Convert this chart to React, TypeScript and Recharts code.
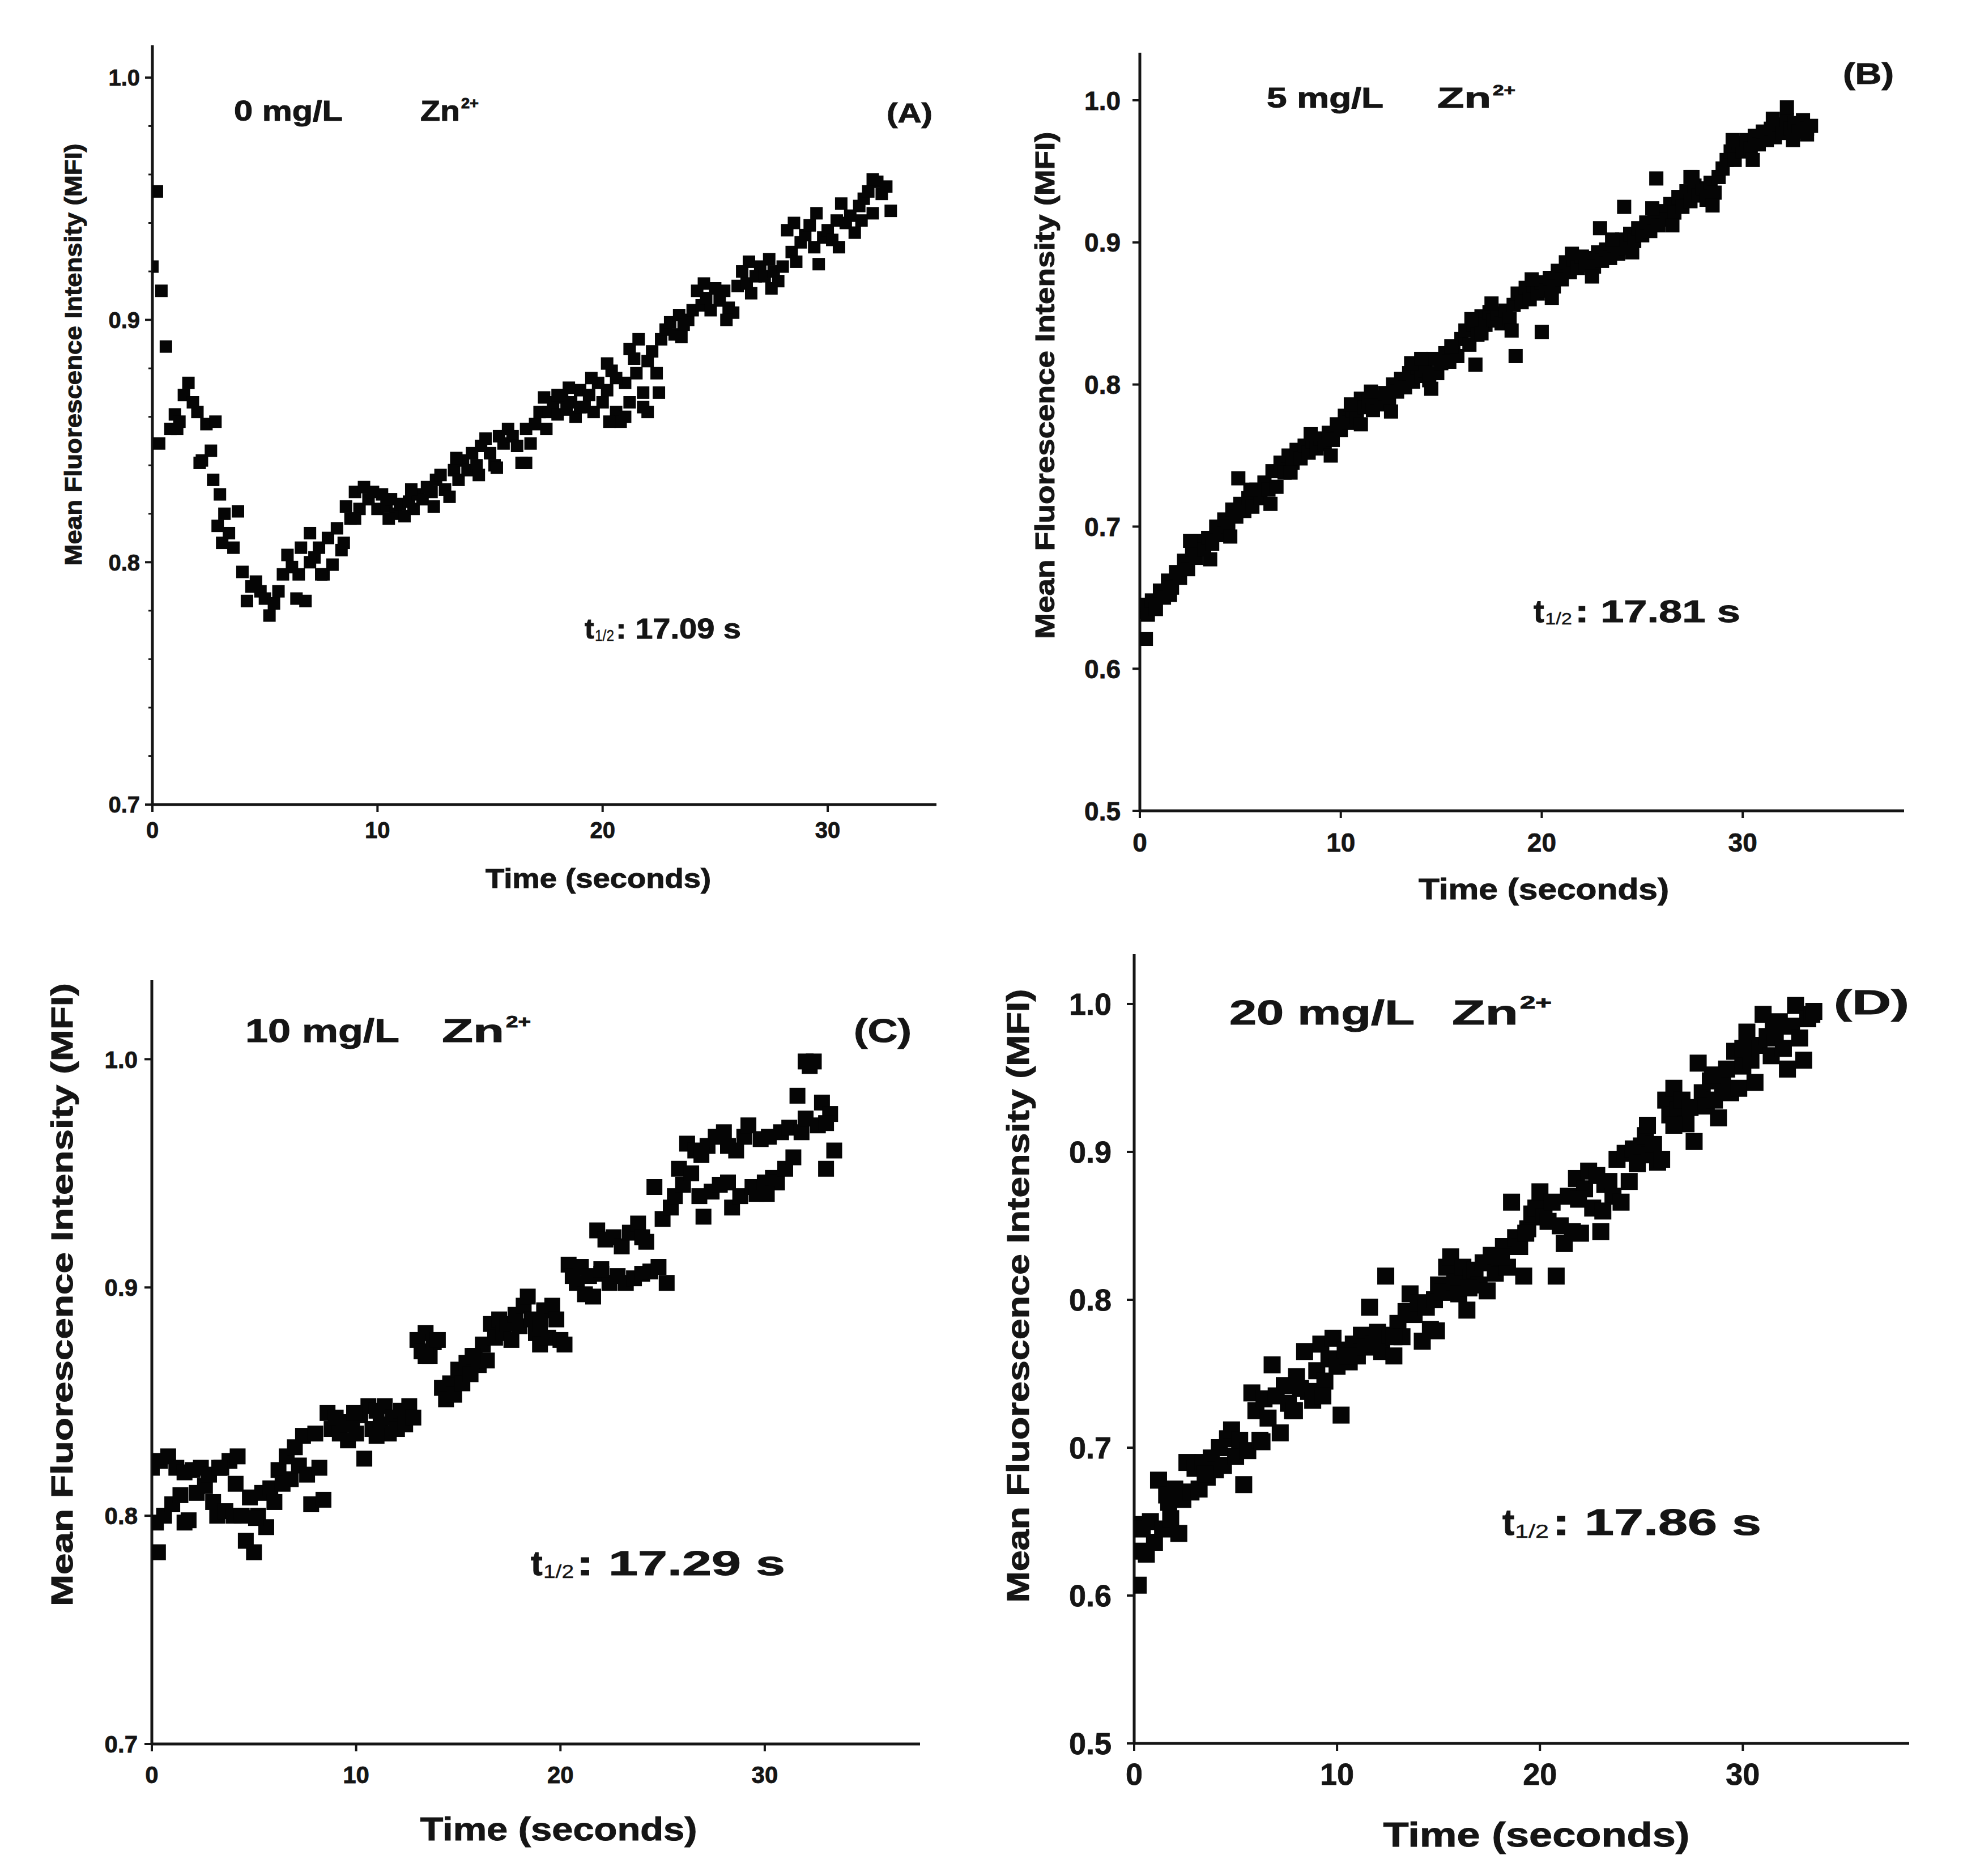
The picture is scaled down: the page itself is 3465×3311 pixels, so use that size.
import React from 'react';
import { ScatterChart, Scatter, XAxis, YAxis } from 'recharts';

// ---------- data ----------
const TIME = [
  0, 0.2, 0.4, 0.6, 0.8, 1, 1.2, 1.4, 1.6, 1.8,
  2, 2.2, 2.4, 2.6, 2.8, 3, 3.2, 3.4, 3.6, 3.8,
  4, 4.2, 4.4, 4.6, 4.8, 5, 5.2, 5.4, 5.6, 5.8,
  6, 6.2, 6.4, 6.6, 6.8, 7, 7.2, 7.4, 7.6, 7.8,
  8, 8.2, 8.4, 8.6, 8.8, 9, 9.2, 9.4, 9.6, 9.8,
  10, 10.2, 10.4, 10.6, 10.8, 11, 11.2, 11.4, 11.6, 11.8,
  12, 12.2, 12.4, 12.6, 12.8, 13, 13.2, 13.4, 13.6, 13.8,
  14, 14.2, 14.4, 14.6, 14.8, 15, 15.2, 15.4, 15.6, 15.8,
  16, 16.2, 16.4, 16.6, 16.8, 17, 17.2, 17.4, 17.6, 17.8,
  18, 18.2, 18.4, 18.6, 18.8, 19, 19.2, 19.4, 19.6, 19.8,
  20, 20.2, 20.4, 20.6, 20.8, 21, 21.2, 21.4, 21.6, 21.8,
  22, 22.2, 22.4, 22.6, 22.8, 23, 23.2, 23.4, 23.6, 23.8,
  24, 24.2, 24.4, 24.6, 24.8, 25, 25.2, 25.4, 25.6, 25.8,
  26, 26.2, 26.4, 26.6, 26.8, 27, 27.2, 27.4, 27.6, 27.8,
  28, 28.2, 28.4, 28.6, 28.8, 29, 29.2, 29.4, 29.6, 29.8,
  30, 30.2, 30.4, 30.6, 30.8, 31, 31.2, 31.4, 31.6, 31.8,
  32, 32.2, 32.4, 32.6, 32.8, 33, 33.2, 33.4,
];

const MFI_A = [
  0.922, 0.953, 0.912, 0.889, 0.855, 0.861, 0.858, 0.869, 0.874, 0.866,
  0.862, 0.842, 0.857, 0.846, 0.858, 0.828, 0.820, 0.812, 0.806, 0.821,
  0.796, 0.784, 0.790, 0.792, 0.788, 0.785, 0.778, 0.783, 0.788, 0.795,
  0.803, 0.798, 0.785, 0.806, 0.784, 0.812, 0.802, 0.806, 0.795, 0.810,
  0.799, 0.814, 0.805, 0.823, 0.818, 0.829, 0.822, 0.831, 0.826, 0.829,
  0.822, 0.828, 0.823, 0.826, 0.820, 0.824, 0.819, 0.825, 0.822, 0.828,
  0.826, 0.831, 0.829, 0.834, 0.836, 0.830, 0.827, 0.838, 0.834, 0.842,
  0.838, 0.845, 0.840, 0.848, 0.851, 0.845, 0.840, 0.852, 0.849, 0.855,
  0.852, 0.848, 0.841, 0.855, 0.849, 0.857, 0.862, 0.868, 0.862, 0.866,
  0.861, 0.868, 0.863, 0.866, 0.860, 0.871, 0.864, 0.869, 0.862, 0.874,
  0.866, 0.871, 0.879, 0.862, 0.858, 0.874, 0.866, 0.884, 0.892, 0.870,
  0.862, 0.887, 0.878, 0.892, 0.896, 0.899, 0.894, 0.902, 0.898, 0.900,
  0.904, 0.912, 0.906, 0.909, 0.904, 0.913, 0.908, 0.912, 0.905, 0.903,
  0.914, 0.920, 0.915, 0.911, 0.918, 0.922, 0.918, 0.925, 0.920, 0.916,
  0.922, 0.937, 0.928, 0.924, 0.932, 0.935, 0.939, 0.930, 0.923, 0.934,
  0.937, 0.933, 0.941, 0.948, 0.940, 0.943, 0.936, 0.947, 0.950, 0.953,
  0.944, 0.957, 0.952, 0.955, 0.945,
];
const EXTRA_TIME_A = [
  0.3, 1.1, 2.1, 2.7, 2.9, 3.1, 18.0, 19.0, 20.3, 20.6, 21.0, 21.5, 21.8, 22.0, 16.6, 15.3,
  6.5, 7.0, 7.5, 8.5, 9.0, 10.5, 11.5, 12.5, 13.5, 14.5, 17.5, 18.5, 19.5, 20.2, 21.2, 22.5,
  23.5, 24.5, 25.5, 26.5, 27.5, 28.5, 29.5, 30.5, 31.5, 32.0,
];
const EXTRA_MFI_A = [
  0.849, 0.855, 0.841, 0.834, 0.815, 0.808, 0.869, 0.864, 0.858, 0.876, 0.860, 0.878, 0.864, 0.883, 0.841, 0.839,
  0.795, 0.800, 0.795, 0.808, 0.818, 0.818, 0.830, 0.823, 0.843, 0.836, 0.855, 0.872, 0.876, 0.882, 0.888, 0.870,
  0.893, 0.915, 0.900, 0.924, 0.913, 0.940, 0.944, 0.930, 0.941, 0.958,
];

const MFI_B = [
  0.640, 0.645, 0.638, 0.648, 0.642, 0.655, 0.650, 0.662, 0.657, 0.668,
  0.664, 0.676, 0.670, 0.684, 0.678, 0.690, 0.684, 0.692, 0.688, 0.700,
  0.694, 0.705, 0.700, 0.712, 0.707, 0.716, 0.711, 0.720, 0.714, 0.726,
  0.720, 0.731, 0.726, 0.739, 0.728, 0.745, 0.738, 0.750, 0.745, 0.754,
  0.748, 0.757, 0.752, 0.760, 0.755, 0.762, 0.758, 0.766, 0.761, 0.772,
  0.768, 0.778, 0.773, 0.782, 0.777, 0.790, 0.784, 0.788, 0.782, 0.791,
  0.786, 0.794, 0.789, 0.800, 0.795, 0.804, 0.798, 0.808, 0.802, 0.812,
  0.806, 0.810, 0.803, 0.818, 0.808, 0.815, 0.822, 0.816, 0.826, 0.820,
  0.832, 0.838, 0.828, 0.842, 0.835, 0.848, 0.842, 0.851, 0.845, 0.850,
  0.843, 0.852, 0.846, 0.856, 0.864, 0.858, 0.868, 0.860, 0.870, 0.864,
  0.872, 0.866, 0.875, 0.869, 0.880, 0.874, 0.886, 0.879, 0.888, 0.882,
  0.890, 0.884, 0.889, 0.883, 0.893, 0.887, 0.895, 0.889, 0.898, 0.892,
  0.902, 0.896, 0.906, 0.901, 0.910, 0.905, 0.914, 0.908, 0.918, 0.912,
  0.922, 0.916, 0.927, 0.921, 0.932, 0.925, 0.936, 0.929, 0.940, 0.933,
  0.938, 0.930, 0.942, 0.935, 0.946, 0.952, 0.958, 0.964, 0.958, 0.970,
  0.964, 0.972, 0.966, 0.975, 0.969, 0.978, 0.972, 0.980, 0.974, 0.983,
  0.977, 0.986, 0.980, 0.984, 0.978, 0.986, 0.980, 0.982,
];
const EXTRA_TIME_B = [
  0.3, 4.9, 16.7, 18.7, 20.0, 22.9, 24.1, 25.7, 32.2, 27.4,
  1.5, 2.5, 3.5, 4.5, 5.5, 6.5, 7.5, 8.5, 9.5, 10.5, 11.5, 12.5, 13.5, 14.5, 15.5, 16.5,
  17.5, 18.5, 19.5, 20.5, 21.5, 22.5, 23.5, 24.5, 25.5, 26.5, 27.5, 28.5, 29.5, 30.5, 31.5,
  32.5, 33.2, 11.0, 14.0, 17.0,
];
const EXTRA_MFI_B = [
  0.621, 0.734, 0.814, 0.820, 0.837, 0.910, 0.925, 0.945, 0.995, 0.946,
  0.652, 0.690, 0.677, 0.693, 0.726, 0.716, 0.738, 0.765, 0.750, 0.786, 0.795, 0.781, 0.815, 0.797, 0.827, 0.846,
  0.857, 0.838, 0.874, 0.861, 0.892, 0.876, 0.902, 0.893, 0.924, 0.912, 0.946, 0.926, 0.972, 0.958, 0.987,
  0.972, 0.976, 0.772, 0.818, 0.836,
];

const MFI_C = [
  0.821, 0.797, 0.824, 0.800, 0.826, 0.805, 0.821, 0.809, 0.819, 0.798,
  0.820, 0.810, 0.821, 0.813, 0.818, 0.806, 0.800, 0.821, 0.802, 0.824,
  0.800, 0.826, 0.800, 0.789, 0.808, 0.784, 0.800, 0.810, 0.795, 0.812,
  0.806, 0.820, 0.814, 0.826, 0.816, 0.830, 0.822, 0.835, 0.818, 0.805,
  0.836, 0.821, 0.807, 0.845, 0.838, 0.843, 0.836, 0.841, 0.833, 0.840,
  0.836, 0.844, 0.825, 0.848, 0.838, 0.846, 0.840, 0.848, 0.836, 0.843,
  0.838, 0.846, 0.840, 0.848, 0.843, 0.877, 0.872, 0.880, 0.870, 0.876,
  0.877, 0.856, 0.851, 0.858, 0.853, 0.864, 0.858, 0.867, 0.862, 0.870,
  0.866, 0.875, 0.868, 0.884, 0.878, 0.886, 0.880, 0.884, 0.877, 0.888,
  0.883, 0.892, 0.896, 0.886, 0.880, 0.875, 0.890, 0.878, 0.892, 0.886,
  0.877, 0.875, 0.910, 0.905, 0.902, 0.909, 0.897, 0.905, 0.896, 0.925,
  0.906, 0.921, 0.902, 0.922, 0.905, 0.918, 0.902, 0.924, 0.904, 0.928,
  0.906, 0.920, 0.907, 0.944, 0.909, 0.930, 0.902, 0.935, 0.940, 0.952,
  0.945, 0.963, 0.950, 0.960, 0.940, 0.931, 0.962, 0.942, 0.966, 0.945,
  0.968, 0.946, 0.935, 0.960, 0.940, 0.966, 0.971, 0.944, 0.941, 0.965,
  0.946, 0.966, 0.948, 0.946, 0.968, 0.952, 0.970, 0.957, 0.984, 0.968,
  0.974, 0.997, 0.999, 0.971, 0.981, 0.952, 0.976, 0.960,
];
const EXTRA_TIME_C = [0.3, 1.6, 3.3, 5.1, 13.4, 15.7, 19.0, 22.0, 24.0, 26.9, 28.2, 30.1, 32.0, 33.0, 4.1, 9.9, 11.0];
const EXTRA_MFI_C = [0.784, 0.797, 0.821, 0.799, 0.870, 0.870, 0.884, 0.908, 0.922, 0.958, 0.962, 0.941, 0.999, 0.972, 0.814, 0.845, 0.835];

const MFI_D = [
  0.648, 0.630, 0.645, 0.628, 0.650, 0.636, 0.678, 0.645, 0.668, 0.652,
  0.672, 0.642, 0.665, 0.690, 0.670, 0.686, 0.672, 0.690, 0.680, 0.693,
  0.685, 0.700, 0.688, 0.706, 0.712, 0.694, 0.705, 0.675, 0.698, 0.737,
  0.725, 0.705, 0.733, 0.720, 0.756, 0.735, 0.710, 0.742, 0.730, 0.725,
  0.748, 0.740, 0.765, 0.738, 0.732, 0.752, 0.770, 0.745, 0.760, 0.774,
  0.755, 0.722, 0.766, 0.758, 0.770, 0.762, 0.776, 0.768, 0.795, 0.770,
  0.778, 0.765, 0.816, 0.776, 0.762, 0.784, 0.775, 0.792, 0.804, 0.790,
  0.798, 0.772, 0.795, 0.780, 0.800, 0.810, 0.805, 0.822, 0.829, 0.812,
  0.804, 0.822, 0.793, 0.815, 0.820, 0.810, 0.825, 0.806, 0.830, 0.818,
  0.828, 0.836, 0.822, 0.866, 0.842, 0.836, 0.816, 0.848, 0.858, 0.862,
  0.873, 0.856, 0.853, 0.866, 0.816, 0.850, 0.838, 0.870, 0.846, 0.882,
  0.845, 0.875, 0.887, 0.862, 0.884, 0.846, 0.878, 0.880, 0.870, 0.895,
  0.866, 0.899, 0.880, 0.902, 0.892, 0.904, 0.911, 0.898, 0.905, 0.893,
  0.895, 0.935, 0.925, 0.943, 0.928, 0.935, 0.919, 0.930, 0.907, 0.960,
  0.940, 0.931, 0.948, 0.935, 0.923, 0.945, 0.956, 0.940, 0.968, 0.943,
  0.958, 0.981, 0.962, 0.947, 0.972, 0.993, 0.978, 0.965, 0.977, 0.988,
  0.970, 0.956, 0.985, 0.999, 0.977, 0.962, 0.990, 0.993,
];
const EXTRA_TIME_D = [0.2, 1.7, 3.5, 6.3, 7.9, 9.3, 10.5, 12.8, 14.9, 16.5, 18.1, 19.3, 21.9, 23.1, 25.3, 26.6, 28.5, 30.0, 31.5, 33.5];
const EXTRA_MFI_D = [0.607, 0.663, 0.682, 0.704, 0.725, 0.735, 0.762, 0.775, 0.779, 0.808, 0.829, 0.845, 0.868, 0.860, 0.918, 0.918, 0.952, 0.970, 0.985, 0.995];

const X_TICKS = [0, 10, 20, 30];
const Y_TICKS_HIGH = [0.7, 0.8, 0.9, 1.0];
const Y_TICKS_LOW = [0.5, 0.6, 0.7, 0.8, 0.9, 1.0];
const Y_MINOR_A = [0.72, 0.74, 0.76, 0.78, 0.82, 0.84, 0.86, 0.88, 0.92, 0.94, 0.96, 0.98];

const PANEL_TAGS = ['(A)', '(B)', '(C)', '(D)'];
const CONCENTRATIONS = ['0 mg/L', '5 mg/L', '10 mg/L', '20 mg/L'];
const HALF_TIMES = [': 17.09 s', ': 17.81 s', ': 17.29 s', ': 17.86 s'];
const X_TITLE = 'Time (seconds)';
const Y_TITLE = 'Mean Fluorescence Intensity (MFI)';

// ---------- helpers ----------
const FONT = '"Liberation Sans", Arial, Helvetica, sans-serif';
const INK = '#151515';

function buildData(values: number[], extraT: number[], extraV: number[]) {
  const main = values.map((v, i) => ({ t: TIME[i], v }));
  const extra = extraT.map((t, i) => ({ t, v: extraV[i] }));
  return main.concat(extra);
}

type PanelCfg = {
  left: number; top: number; width: number; height: number;
  yw: number; mt: number; xh: number;
  xMax: number; yMin: number; yMax: number;
  yTicks: number[]; minor: number[];
  data: { t: number; v: number }[];
  marker: number; tickFont: number; yGap: number; xTickMargin: number;
};

const PANELS: PanelCfg[] = [
  {
    left: 40, top: 60, width: 1613, height: 1520, yw: 229, mt: 20, xh: 160,
    xMax: 34.83, yMin: 0.7, yMax: 1.0133, yTicks: Y_TICKS_HIGH, minor: Y_MINOR_A,
    data: buildData(MFI_A, EXTRA_TIME_A, EXTRA_MFI_A), marker: 22, tickFont: 40, yGap: 22, xTickMargin: 18,
  },
  {
    left: 1783, top: 73, width: 1578, height: 1518, yw: 229, mt: 20, xh: 160,
    xMax: 38.03, yMin: 0.5, yMax: 1.0335, yTicks: Y_TICKS_LOW, minor: [],
    data: buildData(MFI_B, EXTRA_TIME_B, EXTRA_MFI_B), marker: 25, tickFont: 46, yGap: 34, xTickMargin: 26,
  },
  {
    left: 39, top: 1710, width: 1585, height: 1528, yw: 229, mt: 20, xh: 160,
    xMax: 37.6, yMin: 0.7, yMax: 1.0346, yTicks: Y_TICKS_HIGH, minor: [],
    data: buildData(MFI_C, EXTRA_TIME_C, EXTRA_MFI_C), marker: 28, tickFont: 42, yGap: 25, xTickMargin: 26,
  },
  {
    left: 1773, top: 1664, width: 1597, height: 1573, yw: 229, mt: 20, xh: 160,
    xMax: 38.2, yMin: 0.5, yMax: 1.0337, yTicks: Y_TICKS_LOW, minor: [],
    data: buildData(MFI_D, EXTRA_TIME_D, EXTRA_MFI_D), marker: 30, tickFont: 54, yGap: 40, xTickMargin: 22,
  },
];

function Panel({ cfg }: { cfg: PanelCfg }) {
  const allTicks = [...cfg.yTicks, ...cfg.minor].sort((a, b) => a - b);
  const majors = new Set(cfg.yTicks.map((v) => v.toFixed(2)));
  const renderYTick = (p: any) => {
    const val = Number(p.payload.value);
    const major = majors.has(val.toFixed(2));
    const y = p.y;
    return (
      <g>
        <line x1={cfg.yw - (major ? 13 : 7)} x2={cfg.yw} y1={y} y2={y} stroke={INK} strokeWidth={major ? 4 : 3} />
        {major && (
          <text x={cfg.yw - cfg.yGap} y={y} dy="0.36em" textAnchor="end" fontSize={cfg.tickFont}
            fontWeight="bold" fontFamily={FONT} fill={INK} stroke={INK} strokeWidth={0.8}>
            {val.toFixed(1)}
          </text>
        )}
      </g>
    );
  };
  const s = cfg.marker;
  const renderSquare = (p: any) => (
    <rect x={p.cx - s / 2} y={p.cy - s / 2} width={s} height={s} fill="#050505" />
  );
  return (
    <div style={{ position: 'absolute', left: cfg.left, top: cfg.top }}>
      <ScatterChart width={cfg.width} height={cfg.height} margin={{ top: cfg.mt, right: 0, bottom: 0, left: 0 }}>
        <XAxis
          type="number" dataKey="t" domain={[0, cfg.xMax]} ticks={X_TICKS} allowDataOverflow interval={0}
          height={cfg.xh} axisLine={{ stroke: INK, strokeWidth: 5 }} tickLine={{ stroke: INK, strokeWidth: 4 }}
          tickSize={13} tickMargin={cfg.xTickMargin}
          tick={{ fontSize: cfg.tickFont, fontWeight: 'bold', fill: INK, fontFamily: FONT, stroke: INK, strokeWidth: 0.8 }}
        />
        <YAxis
          type="number" dataKey="v" domain={[cfg.yMin, cfg.yMax]} ticks={allTicks} allowDataOverflow interval={0}
          width={cfg.yw} axisLine={{ stroke: INK, strokeWidth: 5 }} tickLine={false} tick={renderYTick}
        />
        <Scatter data={cfg.data} isAnimationActive={false} shape={renderSquare} />
      </ScatterChart>
    </div>
  );
}

// annotation layout (page pixels)
type Note = {
  yTitle: { x: number; y: number; fs: number; len: number };
  xTitle: { x: number; y: number; fs: number; len: number };
  conc: { x: number; y: number; fs: number; len: number };
  zn: { x: number; fs: number; len: number; supX: number; supFs: number; supLen: number };
  tag: { x: number; y: number; fs: number; len: number };
  half: { x: number; y: number; fs: number; subX: number; subFs: number; subLen: number; restX: number; restLen: number };
};

const NOTES: Note[] = [
  {
    yTitle: { x: 144, y: 626, fs: 42, len: 745 },
    xTitle: { x: 1056, y: 1567, fs: 48, len: 398 },
    conc: { x: 413, y: 213, fs: 50, len: 192 },
    zn: { x: 742, fs: 50, len: 70, supX: 814, supFs: 25, supLen: 31 },
    tag: { x: 1565, y: 216, fs: 48, len: 81 },
    half: { x: 1032, y: 1127, fs: 50, subX: 1050, subFs: 28, subLen: 34, restX: 1087, restLen: 221 },
  },
  {
    yTitle: { x: 1861, y: 680, fs: 48, len: 895 },
    xTitle: { x: 2725, y: 1587, fs: 52, len: 442 },
    conc: { x: 2236, y: 190, fs: 50, len: 206 },
    zn: { x: 2537, fs: 50, len: 95, supX: 2635, supFs: 26, supLen: 40 },
    tag: { x: 3253, y: 148, fs: 52, len: 90 },
    half: { x: 2707, y: 1098, fs: 56, subX: 2727, subFs: 30, subLen: 48, restX: 2780, restLen: 292 },
  },
  {
    yTitle: { x: 128, y: 2285, fs: 54, len: 1100 },
    xTitle: { x: 986, y: 3248, fs: 58, len: 489 },
    conc: { x: 433, y: 1839, fs: 58, len: 272 },
    zn: { x: 780, fs: 58, len: 110, supX: 893, supFs: 30, supLen: 44 },
    tag: { x: 1507, y: 1839, fs: 58, len: 102 },
    half: { x: 937, y: 2780, fs: 62, subX: 959, subFs: 34, subLen: 54, restX: 1017, restLen: 369 },
  },
  {
    yTitle: { x: 1816, y: 2287, fs: 56, len: 1083 },
    xTitle: { x: 2712, y: 3259, fs: 62, len: 541 },
    conc: { x: 2170, y: 1808, fs: 62, len: 327 },
    zn: { x: 2563, fs: 62, len: 117, supX: 2683, supFs: 32, supLen: 56 },
    tag: { x: 3237, y: 1790, fs: 62, len: 133 },
    half: { x: 2652, y: 2709, fs: 64, subX: 2674, subFs: 34, subLen: 60, restX: 2740, restLen: 369 },
  },
];

function Annotations() {
  const common = {
    fontFamily: FONT, fontWeight: 'bold' as const, fill: INK, stroke: INK, strokeWidth: 1,
    lengthAdjust: 'spacingAndGlyphs' as const,
  };
  return (
    <svg width={3465} height={3311} style={{ position: 'absolute', left: 0, top: 0, pointerEvents: 'none' }}>
      {NOTES.map((n, i) => (
        <g key={i}>
          <text {...common} transform={`translate(${n.yTitle.x},${n.yTitle.y}) rotate(-90)`} textAnchor="middle"
            fontSize={n.yTitle.fs} textLength={n.yTitle.len}>{Y_TITLE}</text>
          <text {...common} x={n.xTitle.x} y={n.xTitle.y} textAnchor="middle" fontSize={n.xTitle.fs}
            textLength={n.xTitle.len}>{X_TITLE}</text>
          <text {...common} x={n.conc.x} y={n.conc.y} fontSize={n.conc.fs} textLength={n.conc.len}>{CONCENTRATIONS[i]}</text>
          <text {...common} x={n.zn.x} y={n.conc.y} fontSize={n.zn.fs} textLength={n.zn.len}>Zn</text>
          <text {...common} x={n.zn.supX} y={n.conc.y - n.zn.fs * 0.45} fontSize={n.zn.supFs} textLength={n.zn.supLen}>2+</text>
          <text {...common} x={n.tag.x} y={n.tag.y} fontSize={n.tag.fs} textLength={n.tag.len}>{PANEL_TAGS[i]}</text>
          <text {...common} x={n.half.x} y={n.half.y} fontSize={n.half.fs}>t</text>
          <text {...common} x={n.half.subX} y={n.half.y + n.half.fs * 0.08} fontSize={n.half.subFs} fontWeight="normal"
            strokeWidth={0.4} textLength={n.half.subLen}>1/2</text>
          <text {...common} x={n.half.restX} y={n.half.y} fontSize={n.half.fs} textLength={n.half.restLen}>{HALF_TIMES[i]}</text>
        </g>
      ))}
    </svg>
  );
}

export default function App() {
  return (
    <div style={{ position: 'absolute', left: 0, top: 0, width: 3465, height: 3311, background: '#ffffff' }}>
      {PANELS.map((p, i) => (
        <Panel key={i} cfg={p} />
      ))}
      <Annotations />
    </div>
  );
}
